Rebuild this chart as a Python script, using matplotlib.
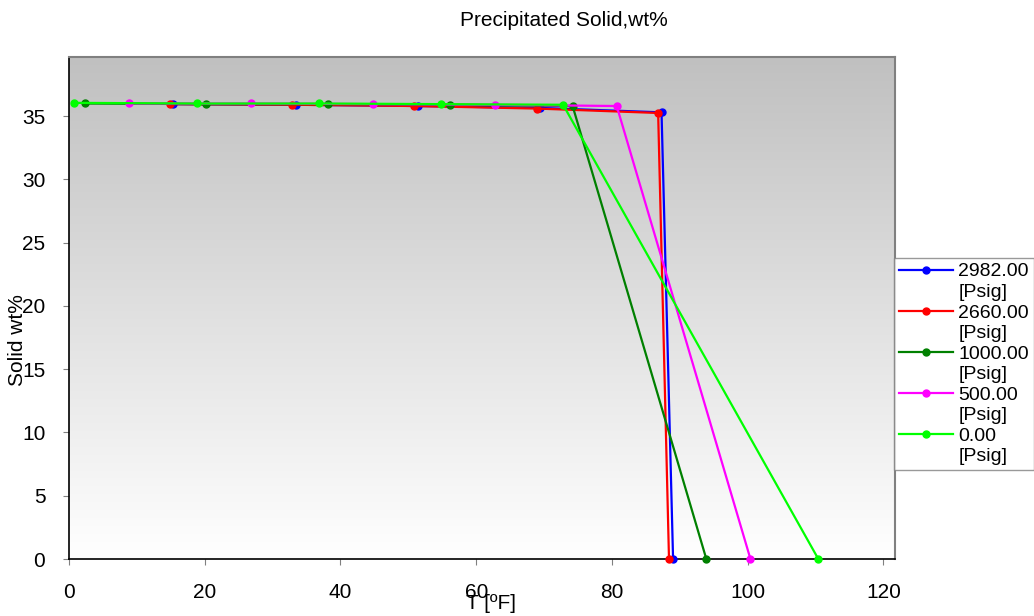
import matplotlib
matplotlib.use('Agg')
import matplotlib.pyplot as plt
from matplotlib.lines import Line2D
import numpy as np

plt.rcParams['font.family'] = ['Liberation Sans', 'DejaVu Sans']

# data
t_2982 = [15.4, 33.4, 51.4, 69.4, 87.3, 89.0]
s_2982 = [35.95, 35.9, 35.8, 35.65, 35.3, 0.0]
t_2660 = [14.9, 32.9, 50.9, 68.9, 86.8, 88.4]
s_2660 = [35.95, 35.9, 35.8, 35.6, 35.25, 0.0]
t_1000 = [2.3, 20.2, 38.2, 56.2, 74.2, 93.9]
s_1000 = [36.0, 35.95, 35.95, 35.9, 35.8, 0.0]
t_500 = [8.8, 26.8, 44.8, 62.7, 80.7, 100.4]
s_500 = [36.0, 36.0, 35.95, 35.9, 35.8, 0.0]
t_0 = [0.8, 18.9, 36.9, 54.8, 72.8, 110.4]
s_0 = [36.05, 36.0, 36.0, 35.95, 35.9, 0.0]

pressures = ['2982.00', '2660.00', '1000.00', '500.00', '0.00']
colors = ['#0000FF', '#FF0000', '#008000', '#FF00FF', '#00FF00']
temps = [t_2982, t_2660, t_1000, t_500, t_0]
solids = [s_2982, s_2660, s_1000, s_500, s_0]

fig = plt.figure(figsize=(10.34, 6.16), dpi=100)
ax = fig.add_axes([0.0667, 0.0925, 0.7989, 0.8155])

xmax, ymax = 121.7, 39.7
ax.set_xlim(0, xmax)
ax.set_ylim(0, ymax)

# grey-to-white gradient background
grad = np.linspace(0, 1, 256).reshape(-1, 1)
cm = matplotlib.colors.LinearSegmentedColormap.from_list('g', ['#FFFFFF', '#C0C0C0'])
ax.imshow(grad, cmap=cm, extent=[0, xmax, 0, ymax], origin='lower', aspect='auto', zorder=0)

handles = []
labels = []
for t, s, p, c in zip(temps, solids, pressures, colors):
    line, = ax.plot(t, s, color=c, lw=1.6, marker='o', ms=5, zorder=3, clip_on=False)
    handles += [line, Line2D([], [], lw=0, marker=None)]
    labels += [p, '[Psig]']

ax.set_xticks([0, 20, 40, 60, 80, 100, 120])
ax.set_yticks([0, 5, 10, 15, 20, 25, 30, 35])
ax.tick_params(axis='x', direction='out', length=4, color='#808080', pad=13, labelsize=15)
ax.tick_params(axis='y', direction='out', length=4, color='#808080', pad=13, labelsize=15)

for side in ['left', 'bottom']:
    ax.spines[side].set_color('black')
    ax.spines[side].set_linewidth(1.2)
for side in ['top', 'right']:
    ax.spines[side].set_color('#808080')
    ax.spines[side].set_linewidth(1.5)

fig.text(564 / 1034, 1 - 20 / 616, 'Precipitated Solid,wt%', fontsize=15, ha='center', va='center')
ax.set_xlabel('T [ºF]', fontsize=15)
ax.xaxis.set_label_coords(0.511, -0.07)
ax.set_ylabel('Solid wt%', fontsize=15)
ax.yaxis.set_label_coords(-0.051, 0.436)

leg = fig.legend(handles, labels, loc='upper left', bbox_to_anchor=(894 / 1034, (616 - 258) / 616),
                 fontsize=14, frameon=True, fancybox=False, borderpad=0.25,
                 labelspacing=0.15, handlelength=2.8, handletextpad=0.25,
                 borderaxespad=0)
leg.get_frame().set_edgecolor('#808080')
leg.get_frame().set_linewidth(1.0)

fig.savefig('out.png', dpi=100)
